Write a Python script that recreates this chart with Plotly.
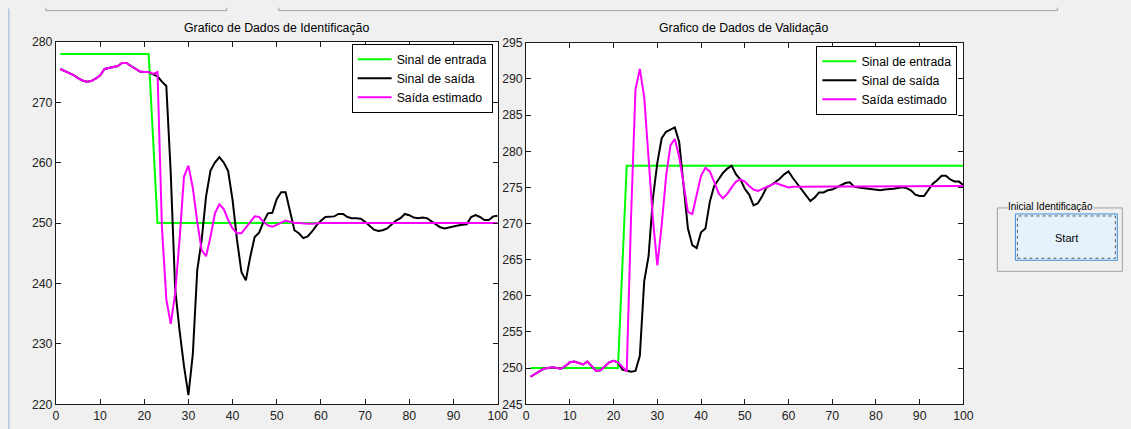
import plotly.graph_objects as go

W, H = 1131, 429

# ---------------- data ----------------
t = list(range(1, 101))

# Left plot: "Grafico de Dados de Identificação"
id_entrada = [
    278, 278, 278, 278, 278, 278, 278, 278, 278, 278,
    278, 278, 278, 278, 278, 278, 278, 278, 278, 278,
    278, 264, 250, 250, 250, 250, 250, 250, 250, 250,
    250, 250, 250, 250, 250, 250, 250, 250, 250, 250,
    250, 250, 250, 250, 250, 250, 250, 250, 250, 250,
    250, 250, 250, 250, 250, 250, 250, 250, 250, 250,
    250, 250, 250, 250, 250, 250, 250, 250, 250, 250,
    250, 250, 250, 250, 250, 250, 250, 250, 250, 250,
    250, 250, 250, 250, 250, 250, 250, 250, 250, 250,
    250, 250, 250, 250, 250, 250, 250, 250, 250, 250,
]
id_saida = [
    275.5, 275.2, 274.9, 274.5, 274.0, 273.6, 273.4, 273.5, 273.9, 274.4,
    275.5, 275.7, 275.8, 276.0, 276.5, 276.5, 276.0, 275.5, 275.1, 275.0,
    275.0, 274.6, 274.3, 273.4, 272.7, 258.3, 239.1, 232.2, 226.3, 221.5,
    228.3, 242.2, 247.2, 254.4, 258.7, 260.0, 260.9, 260.0, 258.6, 253.8,
    247.2, 241.9, 240.5, 244.4, 247.7, 248.4, 250.2, 251.6, 251.7, 254.0,
    255.1, 255.1, 252.0, 248.8, 248.3, 247.5, 247.8, 248.6, 249.6, 250.4,
    251.0, 251.1, 251.1, 251.5, 251.5, 251.0, 250.8, 250.8, 250.7, 250.2,
    249.6, 248.9, 248.7, 248.8, 249.1, 249.8, 250.4, 250.8, 251.5, 251.3,
    250.9, 250.8, 250.9, 250.8, 250.3, 249.7, 249.3, 249.1, 249.3, 249.5,
    249.6, 249.7, 249.8, 251.0, 251.3, 251.0, 250.5, 250.5, 251.1, 251.2,
]
id_estimado = [
    275.5, 275.2, 274.9, 274.5, 274.0, 273.6, 273.4, 273.5, 273.9, 274.4,
    275.5, 275.7, 275.8, 276.0, 276.5, 276.5, 276.0, 275.5, 275.1, 275.0,
    275.0, 274.7, 275.0, 249.4, 237.4, 233.3, 238.3, 247.3, 257.7, 259.5,
    255.8, 250.2, 245.5, 244.5, 247.7, 251.6, 253.1, 252.3, 250.5, 249.1,
    248.3, 248.3, 249.2, 250.2, 251.1, 251.0, 250.2, 249.6, 249.4, 249.7,
    250.1, 250.4, 250.2, 250.0, 250.0, 249.9, 249.9, 249.9, 250.0, 250.0,
    250.0, 250.0, 250.0, 249.9, 249.9, 250.0, 250.0, 250.0, 250.0, 250.0,
    250.0, 250.0, 250.0, 250.0, 250.0, 250.0, 250.0, 250.0, 250.0, 250.0,
    250.0, 250.0, 250.0, 250.0, 250.0, 250.0, 250.0, 250.0, 250.0, 250.0,
    250.0, 250.0, 250.0, 250.0, 250.0, 250.0, 250.0, 250.0, 250.0, 250.0,
]

# Right plot: "Grafico de Dados de Validação"
val_entrada = [
    250, 250, 250, 250, 250, 250, 250, 250, 250, 250,
    250, 250, 250, 250, 250, 250, 250, 250, 250, 250,
    250, 264, 278, 278, 278, 278, 278, 278, 278, 278,
    278, 278, 278, 278, 278, 278, 278, 278, 278, 278,
    278, 278, 278, 278, 278, 278, 278, 278, 278, 278,
    278, 278, 278, 278, 278, 278, 278, 278, 278, 278,
    278, 278, 278, 278, 278, 278, 278, 278, 278, 278,
    278, 278, 278, 278, 278, 278, 278, 278, 278, 278,
    278, 278, 278, 278, 278, 278, 278, 278, 278, 278,
    278, 278, 278, 278, 278, 278, 278, 278, 278, 278,
]
val_saida = [
    248.8, 249.2, 249.6, 249.9, 250.0, 250.1, 250.0, 249.9, 250.3, 250.8,
    250.9, 250.7, 250.5, 250.9, 250.2, 249.6, 249.7, 250.3, 250.8, 251.0,
    250.8, 249.8, 249.6, 249.5, 249.6, 251.7, 262.0, 265.5, 273.5, 278.4,
    281.8, 282.7, 283.0, 283.3, 281.3, 275.0, 269.3, 267.0, 266.6, 268.8,
    269.3, 273.0, 275.2, 276.1, 277.0, 277.6, 278.0, 276.8, 276.1, 274.8,
    274.0, 272.5, 272.8, 273.8, 275.0, 275.3, 275.7, 276.2, 276.8, 277.2,
    276.3, 275.5, 274.6, 273.9, 273.1, 273.6, 274.3, 274.3, 274.6, 274.7,
    275.0, 275.3, 275.6, 275.7, 275.1, 275.0, 274.9, 274.8, 274.7, 274.6,
    274.6, 274.7, 274.7, 274.8, 274.9, 275.0, 274.9, 274.6, 274.0, 273.8,
    273.8, 274.6, 275.5, 276.0, 276.6, 276.6, 276.1, 275.8, 275.8, 275.3,
]
val_estimado = [
    248.8, 249.2, 249.6, 249.9, 250.0, 250.1, 250.0, 249.9, 250.3, 250.8,
    250.9, 250.7, 250.5, 250.9, 250.2, 249.6, 249.7, 250.3, 250.8, 251.0,
    250.8, 250.2, 249.5, 271.0, 288.5, 291.4, 287.5, 279.0, 270.5, 264.2,
    269.8, 276.5, 280.8, 281.7, 279.2, 275.5, 271.6, 271.3, 274.2, 276.6,
    277.7, 277.2, 275.8, 274.2, 273.5, 274.1, 275.0, 275.8, 276.1, 275.8,
    275.2, 274.7, 274.5, 274.8, 275.0, 275.4, 275.6, 275.4, 275.2, 275.0,
    275.1, 275.1, 275.1, 275.2, 275.2, 275.2, 275.2, 275.2, 275.2, 275.2,
    275.2, 275.2, 275.2, 275.2, 275.2, 275.2, 275.2, 275.2, 275.2, 275.2,
    275.2, 275.2, 275.2, 275.2, 275.2, 275.2, 275.2, 275.2, 275.2, 275.2,
    275.2, 275.2, 275.2, 275.2, 275.2, 275.2, 275.2, 275.2, 275.2, 275.2,
]

names = ["Sinal de entrada", "Sinal de saída", "Saída estimado"]
colors = ["#00ff00", "#000000", "#ff00ff"]
titles = ["Grafico de Dados de Identificação", "Grafico de Dados de Validação"]
x_ticks = [0, 10, 20, 30, 40, 50, 60, 70, 80, 90, 100]
y_ticks_id = [220, 230, 240, 250, 260, 270, 280]
y_ticks_val = [245, 250, 255, 260, 265, 270, 275, 280, 285, 290, 295]

# ---------------- figure ----------------
FONT = "Liberation Sans, Arial, sans-serif"

# target pixel -> paper fraction (calibrated to the rendered page)
SX, OX = 0.989, 2.1
SY, OY = 0.961, 8.4


def X(p):
    return ((p - OX) / SX) / W


def Y(p):
    return 1 - ((p - OY) / SY) / H


fig = go.Figure()

for series, name, col in zip([id_entrada, id_saida, id_estimado], names, colors):
    fig.add_trace(go.Scatter(x=t, y=series, name=name, mode="lines",
                             line=dict(color=col, width=2),
                             xaxis="x", yaxis="y", legend="legend"))
for series, name, col in zip([val_entrada, val_saida, val_estimado], names, colors):
    fig.add_trace(go.Scatter(x=t, y=series, name=name, mode="lines",
                             line=dict(color=col, width=2),
                             xaxis="x2", yaxis="y2", legend="legend2"))

axis_common = dict(showgrid=False, zeroline=False, showline=True, linecolor="#1a1a1a",
                   linewidth=1, mirror="ticks", ticks="inside", ticklen=5,
                   tickcolor="#1a1a1a", tickwidth=1,
                   tickfont=dict(family=FONT, size=12.3, color="#222222"))

legend_common = dict(xanchor="right", yanchor="top", bgcolor="#ffffff",
                     bordercolor="#000000", borderwidth=1,
                     font=dict(family=FONT, size=12.3, color="#000000"),
                     tracegroupgap=0, itemwidth=34)

fig.update_layout(
    width=W, height=H,
    margin=dict(l=0, r=0, t=0, b=0),
    paper_bgcolor="#f0f0f0",
    plot_bgcolor="#ffffff",
    showlegend=True,
    xaxis=dict(domain=[X(55), X(497)], range=[0, 100], tickvals=x_ticks,
               anchor="y", **axis_common),
    yaxis=dict(domain=[Y(403), Y(43)], range=[220, 280], tickvals=y_ticks_id,
               anchor="x", **axis_common),
    xaxis2=dict(domain=[X(525.5), X(963)], range=[0, 100], tickvals=x_ticks,
                anchor="y2", **axis_common),
    yaxis2=dict(domain=[Y(403), Y(44)], range=[245, 295], tickvals=y_ticks_val,
                anchor="x2", **axis_common),
    legend=dict(x=X(492), y=Y(45), **legend_common),
    legend2=dict(x=X(957), y=Y(47), **legend_common),
)

# titles
for title, cx in zip(titles, [276, 743]):
    fig.add_annotation(text=title, x=X(cx), y=Y(29), xref="paper", yref="paper",
                       xanchor="center", yanchor="middle", showarrow=False,
                       font=dict(family=FONT, size=12.3, color="#000000"))

# window decorations
def seg(x0, y0, x1, y1, color):
    return dict(type="line", xref="paper", yref="paper",
                x0=X(x0), x1=X(x1), y0=Y(y0), y1=Y(y1),
                line=dict(color=color, width=1))


shapes = [
    seg(8, 10, 8, 429, "#8fb0d6"),
    seg(45, 12, 226, 12, "#a0a0a0"),
    seg(45, 9, 45, 12, "#a0a0a0"),
    seg(226, 9, 226, 12, "#a0a0a0"),
    seg(278, 12, 1057, 12, "#a0a0a0"),
    seg(278, 9, 278, 12, "#a0a0a0"),
    seg(1057, 9, 1057, 12, "#a0a0a0"),
]
# group box
shapes.append(dict(type="rect", xref="paper", yref="paper",
                   x0=X(997), x1=X(1122), y0=Y(271), y1=Y(208),
                   line=dict(color="#a0a0a0", width=1), fillcolor="rgba(0,0,0,0)"))
# button
shapes.append(dict(type="rect", xref="paper", yref="paper",
                   x0=X(1015), x1=X(1117), y0=Y(260), y1=Y(214),
                   line=dict(color="#3c8fd8", width=1), fillcolor="#e5f1fb"))
shapes.append(dict(type="rect", xref="paper", yref="paper",
                   x0=X(1017), x1=X(1115), y0=Y(258), y1=Y(216),
                   line=dict(color="#555555", width=1, dash="dot"),
                   fillcolor="rgba(0,0,0,0)"))
fig.update_layout(shapes=shapes)

fig.add_annotation(text="Inicial Identificação", x=X(1050), y=Y(207),
                   xref="paper", yref="paper", xanchor="center", yanchor="middle",
                   showarrow=False, bgcolor="#f0f0f0", borderpad=0,
                   font=dict(family=FONT, size=10, color="#000000"))
fig.add_annotation(text="Start", x=X(1066), y=Y(238), xref="paper", yref="paper",
                   xanchor="center", yanchor="middle", showarrow=False,
                   font=dict(family=FONT, size=11, color="#000000"))

fig.write_html(
    "out.html",
    config={"displayModeBar": False},
    post_script="document.body.style.margin='0';document.body.style.padding='0';"
                "document.body.style.overflow='hidden';"
                "document.body.style.background='#f0f0f0';"
                "document.documentElement.style.background='#f0f0f0';",
)
